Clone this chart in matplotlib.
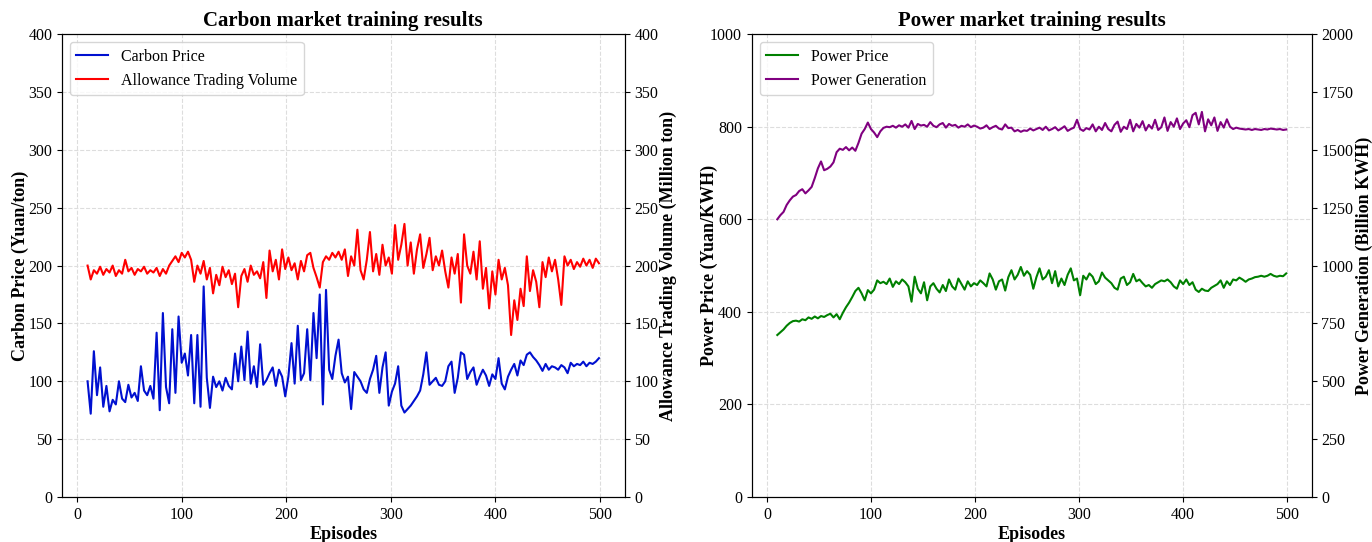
import numpy as np
import matplotlib
matplotlib.use('Agg')
import matplotlib.pyplot as plt

plt.rcParams['font.family'] = ['Liberation Serif', 'DejaVu Serif']

# Carbon market: values, one every ~3 episodes
carbon_price = [100, 72, 126, 88, 112, 78, 96, 74, 84, 80, 100, 85, 82, 97, 86, 90, 83, 113, 92, 88,
                96, 85, 142, 75, 159, 95, 81, 145, 90, 156, 116, 124, 105, 140, 81, 140, 78, 182, 103, 77,
                104, 95, 100, 92, 103, 96, 93, 124, 100, 130, 101, 143, 98, 113, 95, 132, 97, 101, 107, 112,
                96, 110, 104, 87, 104, 133, 98, 148, 101, 107, 145, 101, 159, 120, 175, 80, 179, 110, 102, 122,
                136, 107, 99, 104, 76, 108, 104, 100, 93, 90, 102, 110, 122, 90, 112, 125, 79, 91, 98, 113,
                79, 73, 76, 79, 83, 87, 92, 106, 125, 97, 100, 103, 97, 96, 100, 113, 117, 90, 103, 125,
                123, 102, 108, 112, 97, 104, 110, 105, 96, 106, 102, 120, 98, 93, 104, 110, 115, 105, 118, 114,
                123, 125, 121, 118, 114, 109, 115, 110, 113, 112, 110, 114, 112, 107, 116, 113, 115, 114, 117, 113,
                116, 115, 117, 120]

trading_volume = [200, 188, 196, 193, 199, 192, 197, 194, 200, 191, 196, 193, 205, 195, 198, 192, 197, 195, 199, 193,
                  196, 194, 198, 191, 197, 193, 200, 204, 208, 203, 211, 207, 212, 205, 186, 200, 193, 204, 188, 198,
                  176, 192, 183, 199, 190, 196, 184, 193, 164, 191, 197, 186, 200, 192, 195, 189, 203, 172, 213, 195,
                  205, 188, 214, 197, 207, 196, 202, 188, 204, 195, 209, 211, 198, 190, 181, 203, 208, 205, 211, 207,
                  212, 205, 214, 191, 208, 200, 231, 196, 188, 205, 229, 195, 210, 192, 218, 200, 207, 193, 235, 205,
                  218, 236, 200, 220, 193, 214, 227, 198, 210, 224, 196, 208, 200, 213, 195, 181, 207, 193, 210, 168,
                  227, 200, 193, 212, 188, 221, 180, 198, 163, 195, 175, 205, 188, 198, 183, 140, 170, 153, 180, 165,
                  208, 178, 196, 186, 164, 203, 190, 207, 195, 205, 188, 166, 208, 200, 205, 197, 203, 199, 206, 200,
                  205, 198, 206, 202]

# Power market
power_price = [350, 356, 362, 370, 376, 380, 381, 379, 384, 382, 388, 385, 390, 386, 391, 389, 393, 396, 388, 395,
               384, 398, 410, 420, 432, 445, 452, 440, 425, 447, 440, 448, 468, 462, 465, 460, 472, 454, 466, 460,
               470, 464, 455, 422, 476, 450, 440, 464, 425, 455, 462, 450, 442, 458, 445, 470, 455, 448, 472, 460,
               448, 466, 455, 462, 458, 468, 462, 455, 483, 470, 448, 466, 470, 446, 475, 490, 470, 480, 497, 478,
               488, 480, 450, 475, 494, 470, 476, 490, 462, 488, 455, 472, 458, 480, 494, 468, 472, 436, 478, 470,
               483, 476, 460, 466, 485, 474, 468, 462, 452, 448, 472, 476, 458, 464, 482, 466, 470, 462, 455, 458,
               452, 460, 464, 468, 466, 470, 464, 455, 450, 468, 460, 470, 458, 464, 448, 443, 450, 446, 445, 452,
               456, 460, 468, 452, 466, 458, 470, 468, 474, 470, 465, 470, 472, 475, 476, 478, 476, 478, 482, 478,
               476, 478, 477, 483]

power_generation = [1200, 1218, 1232, 1262, 1282, 1298, 1305, 1322, 1330, 1312, 1325, 1340, 1378, 1420, 1450, 1412, 1418, 1428, 1446, 1490,
                    1505, 1500, 1512, 1498, 1510, 1496, 1530, 1570, 1590, 1618, 1590, 1575, 1555, 1580, 1595, 1600, 1598, 1604, 1596, 1606,
                    1600, 1610, 1596, 1625, 1590, 1612, 1605, 1608, 1600, 1620, 1604, 1598, 1610, 1616, 1596, 1612, 1604, 1608, 1596, 1604,
                    1600, 1610, 1598, 1605, 1600, 1592, 1596, 1606, 1590, 1598, 1604, 1592, 1588, 1610, 1594, 1596, 1580, 1586, 1578, 1584,
                    1582, 1592, 1584, 1590, 1596, 1586, 1600, 1584, 1590, 1598, 1584, 1592, 1602, 1582, 1590, 1596, 1630, 1590, 1582, 1594,
                    1588, 1610, 1580, 1600, 1586, 1616, 1590, 1580, 1608, 1622, 1578, 1600, 1590, 1630, 1580, 1612, 1596, 1624, 1584, 1608,
                    1592, 1630, 1586, 1598, 1640, 1582, 1620, 1600, 1636, 1590, 1614, 1628, 1598, 1650, 1660, 1610, 1664, 1580, 1632, 1606,
                    1640, 1582, 1620, 1596, 1632, 1600, 1590, 1596, 1592, 1590, 1588, 1590, 1586, 1590, 1588, 1586, 1590, 1588, 1592, 1590,
                    1588, 1590, 1586, 1588]

ep_first, ep_last = 10, 499

fig = plt.figure(figsize=(13.72, 5.42), dpi=100)
ax1 = fig.add_axes([0.0452, 0.083, 0.41, 0.854])
ax3 = fig.add_axes([0.548, 0.083, 0.408, 0.854])

lab = dict(fontsize=13, fontweight='bold')

# --- Carbon market ---
ep = np.linspace(ep_first, ep_last, len(carbon_price))
l1, = ax1.plot(ep, carbon_price, color='#0010d0', lw=1.5, label='Carbon Price')
ax2 = ax1.twinx()
ep = np.linspace(ep_first, ep_last, len(trading_volume))
l2, = ax2.plot(ep, trading_volume, color='red', lw=1.5, label='Allowance Trading Volume')
ax1.set_ylim(0, 400)
ax2.set_ylim(0, 400)
ax1.set_yticks(range(0, 401, 50))
ax2.set_yticks(range(0, 401, 50))
ax1.set_xlabel('Episodes', fontsize=13, fontweight='bold', labelpad=2)
ax1.set_ylabel('Carbon Price (Yuan/ton)', **lab)
ax2.set_ylabel('Allowance Trading Volume (Million ton)', **lab)
ax1.yaxis.set_label_coords(-0.059, 0.5)
ax2.yaxis.set_label_coords(1.062, 0.5)
ax1.set_title('Carbon market training results', fontsize=15, fontweight='bold', pad=6)
ax1.grid(True, linestyle='--', color='#dddddd', lw=0.8)
ax1.legend([l1, l2], [l1.get_label(), l2.get_label()], loc='upper left', fontsize=11.5)

# --- Power market ---
ep = np.linspace(ep_first, ep_last, len(power_price))
l3, = ax3.plot(ep, power_price, color='green', lw=1.5, label='Power Price')
ax4 = ax3.twinx()
ep = np.linspace(ep_first, ep_last, len(power_generation))
l4, = ax4.plot(ep, power_generation, color='purple', lw=1.5, label='Power Generation')
ax3.set_ylim(0, 1000)
ax4.set_ylim(0, 2000)
ax3.set_yticks(range(0, 1001, 200))
ax4.set_yticks(range(0, 2001, 250))
ax3.set_xlabel('Episodes', fontsize=13, fontweight='bold', labelpad=2)
ax3.set_ylabel('Power Price (Yuan/KWH)', **lab)
ax4.set_ylabel('Power Generation (Billion KWH)', **lab)
ax3.yaxis.set_label_coords(-0.06, 0.5)
ax4.yaxis.set_label_coords(1.078, 0.5)
ax3.set_title('Power market training results', fontsize=15, fontweight='bold', pad=6)
ax3.grid(True, linestyle='--', color='#dddddd', lw=0.8)
ax3.legend([l3, l4], [l3.get_label(), l4.get_label()], loc='upper left', fontsize=11.5)

for ax in (ax1, ax2, ax3, ax4):
    ax.tick_params(labelsize=11.5)
    ax.set_xticks(range(0, 501, 100))

fig.savefig('out.png', dpi=100)
